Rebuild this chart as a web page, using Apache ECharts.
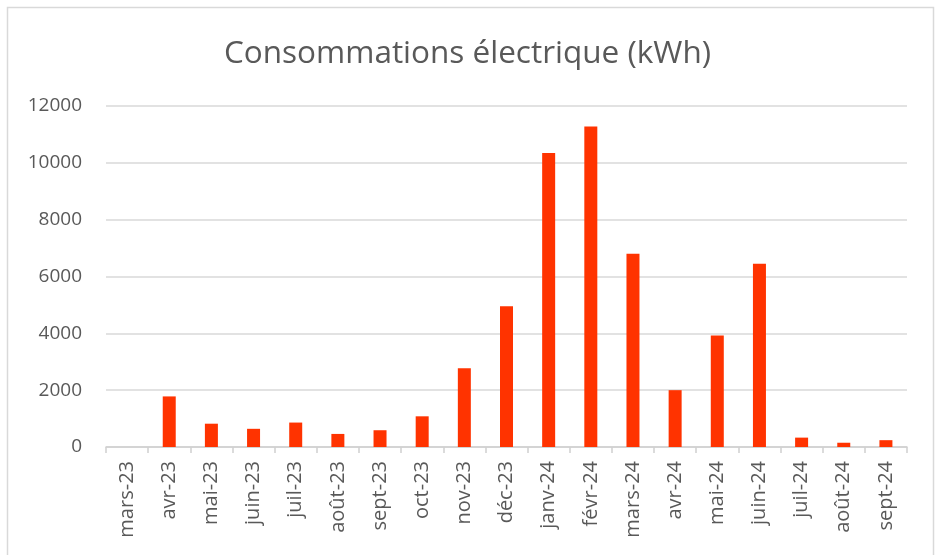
<!DOCTYPE html>
<html>
<head>
<meta charset="utf-8">
<script src="https://cdn.jsdelivr.net/npm/echarts@6/dist/echarts.min.js"></script>
<style>
html,body{margin:0;padding:0;background:#fff;}
#chart{width:935px;height:555px;}
</style>
</head>
<body>
<div id="chart"></div>
<script>
const titleText = 'Consommations électrique (kWh)';
const categories = ['mars-23','avr-23','mai-23','juin-23','juil-23','août-23','sept-23','oct-23','nov-23','déc-23','janv-24','févr-24','mars-24','avr-24','mai-24','juin-24','juil-24','août-24','sept-24'];
const consumption = [0, 1780, 820, 640, 860, 460, 590, 1080, 2770, 4950, 10350, 11280, 6800, 2000, 3920, 6450, 330, 150, 240];
const yMin = 0, yMax = 12000, yStep = 2000;

const chart = echarts.init(document.getElementById('chart'));
chart.setOption({
  animation: false,
  backgroundColor: '#ffffff',
  graphic: [{
    type: 'rect', silent: true, z: -1,
    shape: { x: 7.5, y: 7.5, width: 926, height: 560 },
    style: { fill: 'none', stroke: '#d9d9d9', lineWidth: 1.5 }
  }],
  title: {
    text: titleText,
    left: 'center',
    top: 33,
    textStyle: { fontFamily: 'Open Sans', fontWeight: 'normal', fontSize: 31.5, color: '#595959' }
  },
  grid: { left: 106, right: 28, top: 106, bottom: 108, containLabel: false },
  xAxis: {
    type: 'category',
    data: categories,
    axisLine: { lineStyle: { color: '#d0d0d0', width: 1.5 } },
    axisTick: { show: true, length: 6, lineStyle: { color: '#d0d0d0', width: 1.5 } },
    axisLabel: { rotate: 90, margin: 14, color: '#595959', fontFamily: 'Open Sans', fontSize: 20 }
  },
  yAxis: {
    type: 'value',
    min: yMin, max: yMax, interval: yStep,
    axisLine: { show: false },
    axisTick: { show: false },
    axisLabel: { margin: 24, color: '#595959', fontFamily: 'Open Sans', fontSize: 19, formatter: v => String(v) },
    splitLine: { lineStyle: { color: '#d9d9d9', width: 1.5 } }
  },
  series: [{
    type: 'bar',
    data: consumption,
    barWidth: 13,
    itemStyle: { color: '#FF3300' }
  }]
});
</script>
</body>
</html>
